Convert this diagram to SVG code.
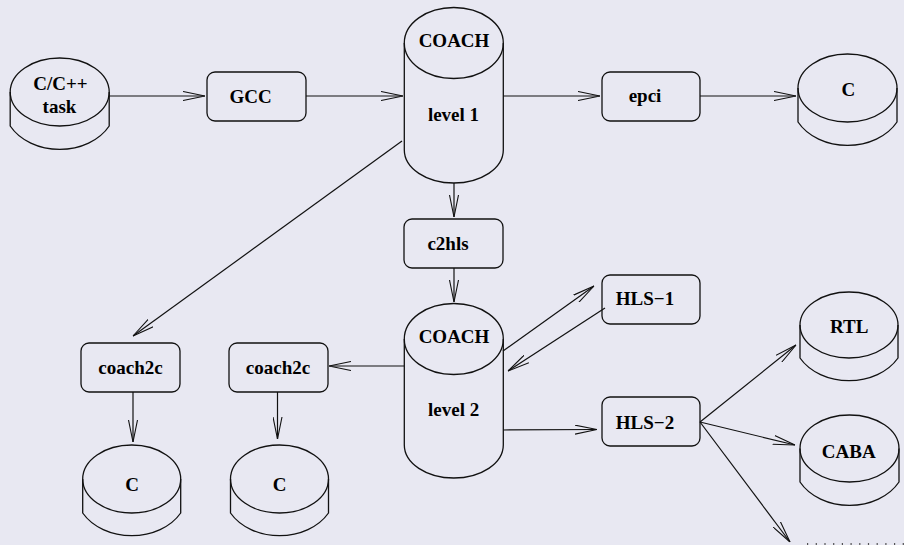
<svg xmlns="http://www.w3.org/2000/svg" width="904" height="545" viewBox="0 0 904 545">
<defs>
<marker id="arr" viewBox="0 0 22 10" refX="22" refY="5" markerWidth="22" markerHeight="10" markerUnits="userSpaceOnUse" orient="auto">
<path d="M0,0.5 L22,5 L0,9.5" fill="none" stroke="#111" stroke-width="1.1"/>
</marker>
</defs>
<style>
.bg{fill:#e8e8f2}
.sh{fill:none;stroke:#111;stroke-width:1.3}
.bx{fill:none;stroke:#111;stroke-width:1.3}
.t{font-family:"Liberation Serif","Times New Roman",serif;font-weight:bold;font-size:19px;fill:#000;text-anchor:middle}
.c{fill:none;stroke:#111;stroke-width:1.2;marker-end:url(#arr)}
</style>
<rect class="bg" x="0" y="0" width="904" height="545"/>

<g id="connectors">
<path class="c" d="M109,96 L205,96"/>
<path class="c" d="M306,96 L403,96"/>
<path class="c" d="M503,96 L600,96"/>
<path class="c" d="M700,96 L796,96"/>
<path class="c" d="M454,183 L454,217"/>
<path class="c" d="M454,268 L454,302"/>
<path class="c" d="M402,141 L133,336"/>
<path class="c" d="M404,366 L329,366"/>
<path class="c" d="M133,392 L133,442"/>
<path class="c" d="M277.5,392 L277.5,439"/>
<path class="c" d="M503,351 L594,286"/>
<path class="c" d="M605,308 L508,371"/>
<path class="c" d="M503,430 L597,429.5"/>
<path class="c" d="M700,422 L796,345"/>
<path class="c" d="M700,422 L795,445"/>
<path class="c" d="M700,422 L790,542"/>
</g>

<g id="task">
<ellipse class="sh" cx="59.7" cy="92" rx="49.5" ry="34"/>
<path class="sh" d="M10.2,92 L10.2,126 A56,44 0 0 0 109.2,126 L109.2,92"/>
<text class="t" x="60.5" y="90">C/C++</text>
<text class="t" x="59.5" y="113">task</text>
</g>

<g id="gcc">
<rect class="bx" x="207" y="72" width="99" height="49" rx="8"/>
<text class="t" x="250.5" y="103">GCC</text>
</g>

<g id="coach1">
<ellipse class="sh" cx="453.8" cy="43" rx="49.5" ry="35.5"/>
<path class="sh" d="M404.3,43 L404.3,150 A49.5,33 0 0 0 503.3,150 L503.3,43"/>
<text class="t" x="454" y="47">COACH</text>
<text class="t" x="453.5" y="121">level 1</text>
</g>

<g id="epci">
<rect class="bx" x="602" y="72" width="98" height="49" rx="8"/>
<text class="t" x="645" y="102">epci</text>
</g>

<g id="c_top">
<ellipse class="sh" cx="847.5" cy="88" rx="49.5" ry="34"/>
<path class="sh" d="M798,88 L798,122 A56,44 0 0 0 897,122 L897,88"/>
<text class="t" x="848.3" y="96">C</text>
</g>

<g id="c2hls">
<rect class="bx" x="404" y="219" width="99" height="49" rx="8"/>
<text class="t" x="448" y="250">c2hls</text>
</g>

<g id="coach2">
<ellipse class="sh" cx="453.8" cy="339" rx="49.5" ry="35.5"/>
<path class="sh" d="M404.3,339 L404.3,445 A49.5,33 0 0 0 503.3,445 L503.3,339"/>
<text class="t" x="454" y="343">COACH</text>
<text class="t" x="453.7" y="416">level 2</text>
</g>

<g id="hls1">
<rect class="bx" x="602" y="275" width="98" height="49" rx="8"/>
<text class="t" x="645" y="305">HLS−1</text>
</g>

<g id="hls2">
<rect class="bx" x="602" y="397" width="98" height="49" rx="8"/>
<text class="t" x="645" y="429">HLS−2</text>
</g>

<g id="coach2c_a">
<rect class="bx" x="81" y="343" width="99" height="49" rx="8"/>
<text class="t" x="130.5" y="374">coach2c</text>
</g>

<g id="coach2c_b">
<rect class="bx" x="229" y="343" width="99" height="49" rx="8"/>
<text class="t" x="278" y="374">coach2c</text>
</g>

<g id="c_a">
<ellipse class="sh" cx="131.7" cy="479" rx="49" ry="34"/>
<path class="sh" d="M82.7,479 L82.7,513 A56,44 0 0 0 180.7,513 L180.7,479"/>
<text class="t" x="132" y="491">C</text>
</g>

<g id="c_b">
<ellipse class="sh" cx="279.5" cy="479" rx="49" ry="34"/>
<path class="sh" d="M230.5,479 L230.5,513 A56,44 0 0 0 328.5,513 L328.5,479"/>
<text class="t" x="279.7" y="491">C</text>
</g>

<g id="rtl">
<ellipse class="sh" cx="849" cy="325" rx="49" ry="33"/>
<path class="sh" d="M800,325 L800,358 A56,44 0 0 0 898,358 L898,325"/>
<text class="t" x="849.2" y="333">RTL</text>
</g>

<g id="caba">
<ellipse class="sh" cx="849.5" cy="448.5" rx="49.5" ry="33.5"/>
<path class="sh" d="M800,448.5 L800,482 A56,44 0 0 0 899,482 L899,448.5"/>
<text class="t" x="848.7" y="457.5">CABA</text>
</g>

<g id="more">
<path d="M807,544 L904,544" fill="none" stroke="#222" stroke-width="1.5" stroke-dasharray="1.2 7.5"/>
</g>
</svg>
